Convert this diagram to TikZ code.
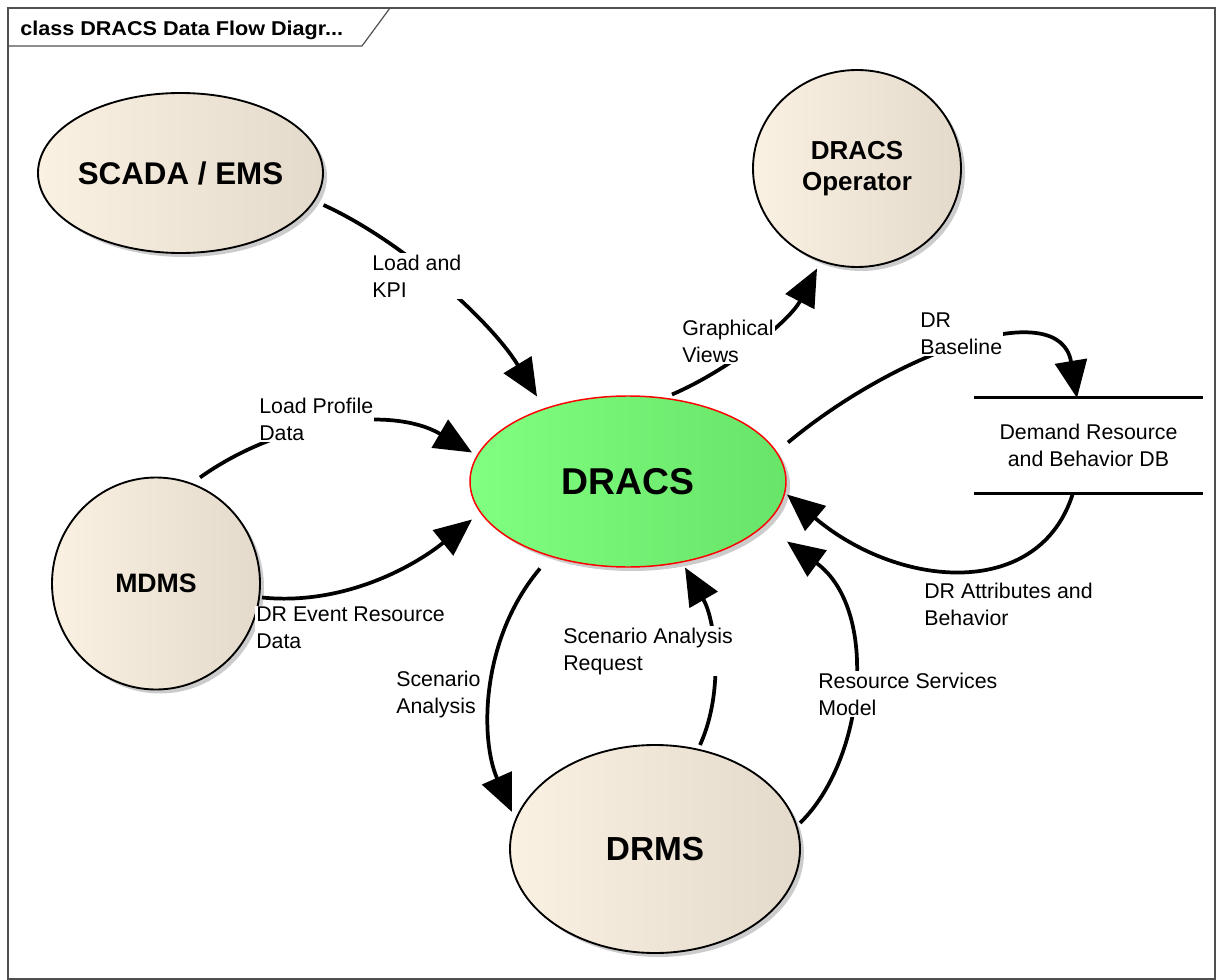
\documentclass[tikz,border=0pt]{standalone}
\usepackage{fontspec}
\setmainfont{Liberation Sans}
\usetikzlibrary{arrows.meta,shapes.geometric,shadows}
\definecolor{creamL}{HTML}{FBF1E3}
\definecolor{creamR}{HTML}{E3DACB}
\definecolor{greenL}{HTML}{80FF80}
\definecolor{greenR}{HTML}{68E468}
\definecolor{framec}{HTML}{505050}
\newcommand{\lblfont}{\fontsize{16pt}{20.25pt}\selectfont}
\begin{document}
\begin{tikzpicture}[x=0.75pt,y=-0.75pt,
  shd/.style={drop shadow={shadow xshift=3pt,shadow yshift=-3pt,fill=black!40,opacity=0.5}},
  ent/.style={ellipse,draw=black,line width=1.4pt,inner sep=0pt,
    left color=creamL,middle color=creamL,right color=creamR,shd},
  proc/.style={ellipse,draw=red,line width=1.1pt,inner sep=0pt,
    left color=greenL,middle color=greenL,right color=greenR,shd},
  flow/.style={line width=2.8pt,-{Triangle[length=28pt,width=24pt]}},
  lbl/.style={font=\lblfont,fill=white,inner sep=1pt,align=left,anchor=west},
  framebox/.style={draw=framec,line width=0.9pt}]
\useasboundingbox (0,0) rectangle (1216,980);

% frame
\draw[framebox] (8,8) rectangle (1215,979);
\draw[framebox] (8,46) -- (362,46) -- (390,8);
\node[anchor=base west,inner sep=0pt,font=\bfseries\fontsize{15pt}{18pt}\selectfont] (title) at (20,36) {\scalebox{1.08}[1]{class DRACS Data Flow Diagr...}};

% entities
\node[ent,minimum width=213.75pt,minimum height=120pt,
  font=\bfseries\fontsize{23.5pt}{28pt}\selectfont] (scada) at (180.5,173) {\makebox[0pt]{SCADA / EMS}};
\node[ent,minimum width=156pt,minimum height=147.75pt,align=center,
  font=\bfseries\fontsize{19.5pt}{23.25pt}\selectfont] (op) at (857,168.5) {DRACS\\Operator};
\node[proc,minimum width=237pt,minimum height=128.25pt,
  font=\bfseries\fontsize{28pt}{33pt}\selectfont] (dracs) at (628,481.5) {DRACS};
\node[ent,minimum width=156pt,minimum height=159pt,
  font=\bfseries\fontsize{20pt}{24pt}\selectfont] (mdms) at (156,583.5) {MDMS};
\node[ent,minimum width=217.5pt,minimum height=156pt,
  font=\bfseries\fontsize{25pt}{30pt}\selectfont] (drms) at (655,849) {DRMS};

% data store
\node[rectangle,minimum width=171.75pt,minimum height=71.25pt,align=center,font=\lblfont] (db) at (1088.5,445.5) {Demand Resource\\and Behavior DB};
\draw[line width=2.4pt] (db.north west) -- (db.north east) (db.south west) -- (db.south east);

% flows
\draw[flow] ([shift={(143,32)}]scada.center) .. controls +(77,35) and +(-47,-77) .. ([shift={(-91,-85)}]dracs.center);
\draw[flow] ([shift={(44,-87)}]dracs.center) .. controls +(58,-25) and +(-27,52) .. ([shift={(-40,100)}]op.center);
\draw[flow] ([shift={(44,-106)}]mdms.center) .. controls +(80,-57) and +(-82,-48) .. ([shift={(-156,-29)}]dracs.center);
\draw[flow] ([shift={(106,14)}]mdms.center) .. controls +(78,8) and +(-62,50) .. ([shift={(-156,38)}]dracs.center);
\draw[flow] ([shift={(-88,87)}]dracs.center) .. controls +(-60,71) and +(-32,-72) .. ([shift={(-143,-37)}]drms.center);
\draw[flow] ([shift={(45,-104)}]drms.center) .. controls +(25,-55) and +(30,52) .. ([shift={(57,86)}]dracs.center);
\draw[flow] ([shift={(145,-26)}]drms.center) .. controls +(65,-63) and +(93,68) .. ([shift={(159,60)}]dracs.center);
\draw[flow] ([shift={(-15.5,47.5)}]db.center) .. controls +(-33,107) and +(113,95) .. ([shift={(159,13)}]dracs.center);
\draw[flow] ([shift={(160,-39)}]dracs.center) .. controls +(112,-93) and +(-17,-103) .. ([shift={(-11.5,-47.5)}]db.center);

% labels
\node[lbl] (l1) at (370.7,276) {Load and\\KPI};
\node[lbl] (l2) at (680.7,341) {Graphical\\Views};
\node[lbl] (l3) at (918.7,334) {DR\\Baseline};
\node[lbl] (l4) at (257.7,419.5) {Load Profile\\Data};
\node[lbl] (l5) at (254.7,628) {DR Event Resource\\Data};
\node[lbl] (l6) at (922.7,604) {DR Attributes and\\Behavior};
\node[lbl] (l7) at (561.7,651) {Scenario Analysis\\Request};
\node[lbl] (l8) at (394.7,694) {Scenario\\Analysis};
\node[lbl] (l9) at (816.7,694) {Resource Services\\Model};
\end{tikzpicture}
\end{document}
